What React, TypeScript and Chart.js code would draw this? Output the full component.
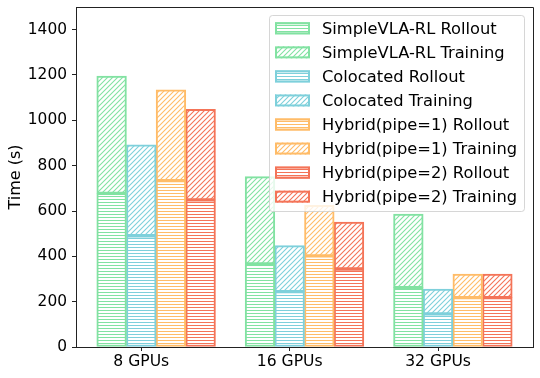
import React, { useEffect, useRef } from "react";
import { Chart, registerables } from "chart.js";

Chart.register(...registerables);

const categories = ["8 GPUs", "16 GPUs", "32 GPUs"];
const methods = ["SimpleVLA-RL", "Colocated", "Hybrid(pipe=1)", "Hybrid(pipe=2)"];
// rollout time and training time (stacked) per method, per GPU count
const simpleRollout = [678, 366, 262];
const simpleTraining = [517, 386, 324];
const colocRollout = [491, 244, 146];
const colocTraining = [401, 203, 110];
const hyb1Rollout = [734, 402, 218];
const hyb1Training = [401, 223, 104];
const hyb2Rollout = [649, 344, 218];
const hyb2Training = [400, 207, 104];
const yTicks = [0, 200, 400, 600, 800, 1000, 1200, 1400];

const rolloutSeries = [simpleRollout, colocRollout, hyb1Rollout, hyb2Rollout];
const trainingSeries = [simpleTraining, colocTraining, hyb1Training, hyb2Training];
const colors = ["#82E2A2", "#7ED0DB", "#FFBC68", "#F47458"];
const barOffsets = [-0.2, 0, 0.2, 0.4];

const FONT = "DejaVu Sans";

function hPattern(color: string): CanvasPattern {
  const c = document.createElement("canvas");
  c.width = 6;
  c.height = 3;
  const g = c.getContext("2d")!;
  g.fillStyle = "#ffffff";
  g.fillRect(0, 0, 6, 3);
  g.fillStyle = color;
  g.fillRect(0, 1, 6, 1);
  return g.createPattern(c, "repeat")!;
}

function dPattern(color: string): CanvasPattern {
  const s = 5;
  const c = document.createElement("canvas");
  c.width = s;
  c.height = s;
  const g = c.getContext("2d")!;
  g.fillStyle = "#ffffff";
  g.fillRect(0, 0, s, s);
  g.strokeStyle = color;
  g.lineWidth = 1.1;
  g.beginPath();
  g.moveTo(-1, s + 1);
  g.lineTo(s + 1, -1);
  g.moveTo(-1, 1);
  g.lineTo(1, -1);
  g.moveTo(s - 1, s + 1);
  g.lineTo(s + 1, s - 1);
  g.stroke();
  return g.createPattern(c, "repeat")!;
}

const framePlugin = {
  id: "frameAndLegend",
  afterDraw(chart: any) {
    const { ctx, chartArea } = chart;
    ctx.save();
    ctx.strokeStyle = "#222";
    ctx.lineWidth = 1;
    ctx.beginPath();
    ctx.moveTo(chartArea.left, chartArea.top + 0.5);
    ctx.lineTo(chartArea.right + 0.5, chartArea.top + 0.5);
    ctx.lineTo(chartArea.right + 0.5, chartArea.bottom);
    ctx.stroke();

    // legend
    const bx = 269.5, by = 15.5, bw = 255, bh = 196;
    ctx.fillStyle = "rgba(255,255,255,0.8)";
    ctx.strokeStyle = "rgba(204,204,204,0.8)";
    ctx.beginPath();
    (ctx as any).roundRect(bx, by, bw, bh, 3);
    ctx.fill();
    ctx.stroke();
    const ds = chart.data.datasets;
    ctx.font = `16.3px "${FONT}"`;
    ctx.textBaseline = "middle";
    ctx.textAlign = "left";
    for (let i = 0; i < ds.length; i++) {
      const cy = 28.3 + i * 24.05;
      const px = 275, pw = 35, ph = 12;
      ctx.fillStyle = ds[i].backgroundColor;
      ctx.fillRect(px, cy - ph / 2, pw, ph);
      ctx.strokeStyle = ds[i].borderColor;
      ctx.lineWidth = 2;
      ctx.strokeRect(px + 1, cy - ph / 2 + 1, pw - 2, ph - 2);
      ctx.fillStyle = "#000";
      ctx.fillText(ds[i].label, 322, cy + 1);
    }
    ctx.restore();
  },
};

export default function App() {
  const ref = useRef<HTMLCanvasElement>(null);
  useEffect(() => {
    document.body.style.margin = "0";
    const datasets: any[] = [];
    methods.forEach((m, k) => {
      datasets.push({
        label: `${m} Rollout`,
        data: categories.map((_, i) => ({ x: i + barOffsets[k], y: rolloutSeries[k][i] })),
        backgroundColor: hPattern(colors[k]),
        borderColor: colors[k],
        borderWidth: 2,
        borderSkipped: false,
        grouped: false,
        categoryPercentage: 1,
        barPercentage: 1,
      });
      datasets.push({
        label: `${m} Training`,
        data: categories.map((_, i) => ({ x: i + barOffsets[k], y: trainingSeries[k][i] })),
        backgroundColor: dPattern(colors[k]),
        borderColor: colors[k],
        borderWidth: 2,
        borderSkipped: false,
        grouped: false,
        categoryPercentage: 1,
        barPercentage: 1,
      });
    });
    const chart = new Chart(ref.current!, {
      type: "bar",
      data: { datasets },
      plugins: [framePlugin],
      options: {
        animation: false,
        responsive: false,
        layout: { padding: { left: 0, right: 7, top: 7, bottom: 0 } },
        plugins: { legend: { display: false }, tooltip: { enabled: false } },
        scales: {
          x: {
            type: "linear",
            min: -0.44,
            max: 2.64,
            offset: false,
            stacked: true,
            afterBuildTicks: (s: any) => {
              s.ticks = categories.map((_, i) => ({ value: i }));
            },
            afterFit: (s: any) => {
              s.height = 31;
              s.paddingLeft = 0;
              s.paddingRight = 0;
            },
            ticks: {
              color: "#000",
              font: { family: FONT, size: 15.6 },
              padding: 2,
              maxRotation: 0,
              autoSkip: false,
              callback: (v: any) => categories[Math.round(v)] ?? "",
            },
            grid: { display: true, offset: false, drawOnChartArea: false, drawTicks: true, tickLength: 4, color: "#222" },
            border: { display: true, color: "#222", width: 1 },
          },
          y: {
            type: "linear",
            min: 0,
            max: 1500,
            stacked: true,
            afterBuildTicks: (s: any) => {
              s.ticks = yTicks.map((v) => ({ value: v }));
            },
            afterFit: (s: any) => {
              s.width = 76;
              s.paddingTop = 0;
              s.paddingBottom = 0;
            },
            ticks: {
              color: "#000",
              font: { family: FONT, size: 15.4 },
              padding: 5,
              callback: (v: any) => String(v),
            },
            title: {
              display: true,
              text: "Time (s)",
              color: "#000",
              font: { family: FONT, size: 16 },
              padding: { top: 6, bottom: 0 },
            },
            grid: { display: true, drawOnChartArea: false, drawTicks: true, tickLength: 4, color: "#222" },
            border: { display: true, color: "#222", width: 1 },
          },
        },
      },
    } as any);
    return () => chart.destroy();
  }, []);
  return <canvas ref={ref} width={540} height={378} style={{ display: "block" }} />;
}
